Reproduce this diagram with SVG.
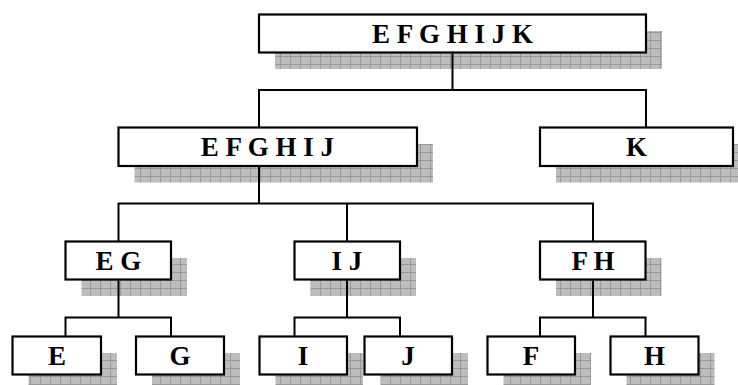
<svg xmlns="http://www.w3.org/2000/svg" width="738" height="385" viewBox="0 0 738 385">
  <defs>
    <!-- hatched grey drop-shadow fill: fine dither with a grid on top -->
    <pattern id="hatch" patternUnits="userSpaceOnUse" x="0" y="0" width="10" height="8">
      <rect width="10" height="8" fill="#c6c6c6"/>
      <path d="M0,0h1v1h-1zM2,0h1v1h-1zM4,0h1v1h-1zM6,0h1v1h-1zM8,0h1v1h-1zM1,1h1v1h-1zM3,1h1v1h-1zM5,1h1v1h-1zM7,1h1v1h-1zM9,1h1v1h-1zM0,2h1v1h-1zM2,2h1v1h-1zM4,2h1v1h-1zM6,2h1v1h-1zM8,2h1v1h-1zM1,3h1v1h-1zM3,3h1v1h-1zM5,3h1v1h-1zM7,3h1v1h-1zM9,3h1v1h-1zM0,4h1v1h-1zM2,4h1v1h-1zM4,4h1v1h-1zM6,4h1v1h-1zM8,4h1v1h-1zM1,5h1v1h-1zM3,5h1v1h-1zM5,5h1v1h-1zM7,5h1v1h-1zM9,5h1v1h-1zM0,6h1v1h-1zM2,6h1v1h-1zM4,6h1v1h-1zM6,6h1v1h-1zM8,6h1v1h-1zM1,7h1v1h-1zM3,7h1v1h-1zM5,7h1v1h-1zM7,7h1v1h-1zM9,7h1v1h-1z" fill="#b4b4b4"/>
      <path d="M0.5,0V8M0,0.5H10" stroke="#999999" stroke-width="1" fill="none"/>
    </pattern>
  </defs>
  <style>
    .shadow { fill: url(#hatch); }
    .box { fill: #ffffff; stroke: #000000; stroke-width: 2.2; }
    .label { font-family: "Liberation Serif", "Times New Roman", serif; font-weight: bold; font-size: 27px; fill: #000000; text-anchor: middle; }
    .link { fill: none; stroke: #000000; stroke-width: 2; }
  </style>

  <rect width="738" height="385" fill="#ffffff"/>

  <!-- level 1 -->
  <g id="node-EFGHIJK">
    <rect class="shadow" x="275" y="31" width="387" height="38"/>
    <rect class="box" x="259" y="14.5" width="387" height="38"/>
    <text class="label" x="452.5" y="42.5">E F G H I J K</text>
  </g>

  <!-- level 2 -->
  <g id="node-EFGHIJ">
    <rect class="shadow" x="134.5" y="144" width="298.5" height="38.5"/>
    <rect class="box" x="118.5" y="127.5" width="298.5" height="38.5"/>
    <text class="label" x="267.5" y="156">E F G H I J</text>
  </g>
  <g id="node-K">
    <rect class="shadow" x="556" y="144" width="193" height="38.5"/>
    <rect class="box" x="540" y="127.5" width="193" height="38.5"/>
    <text class="label" x="636.5" y="156">K</text>
  </g>

  <!-- level 3 -->
  <g id="node-EG">
    <rect class="shadow" x="81.5" y="258" width="105.5" height="38"/>
    <rect class="box" x="65.5" y="241.5" width="105.5" height="38"/>
    <text class="label" x="118.5" y="269.5">E G</text>
  </g>
  <g id="node-IJ">
    <rect class="shadow" x="310.5" y="258" width="105.5" height="38"/>
    <rect class="box" x="294.5" y="241.5" width="105.5" height="38"/>
    <text class="label" x="347" y="269.5">I J</text>
  </g>
  <g id="node-FH">
    <rect class="shadow" x="556" y="258" width="105.5" height="38"/>
    <rect class="box" x="540" y="241.5" width="105.5" height="38"/>
    <text class="label" x="593" y="269.5">F H</text>
  </g>

  <!-- level 4 -->
  <g id="node-E">
    <rect class="shadow" x="28.5" y="353" width="88.5" height="38"/>
    <rect class="box" x="12.5" y="336.5" width="88.5" height="38"/>
    <text class="label" x="57" y="364.5">E</text>
  </g>
  <g id="node-G">
    <rect class="shadow" x="152" y="353" width="88" height="38"/>
    <rect class="box" x="136" y="336.5" width="88" height="38"/>
    <text class="label" x="180" y="364.5">G</text>
  </g>
  <g id="node-I">
    <rect class="shadow" x="275.5" y="353" width="87.5" height="38"/>
    <rect class="box" x="259.5" y="336.5" width="87.5" height="38"/>
    <text class="label" x="303" y="364.5">I</text>
  </g>
  <g id="node-J">
    <rect class="shadow" x="380.5" y="353" width="87.5" height="38"/>
    <rect class="box" x="364.5" y="336.5" width="87.5" height="38"/>
    <text class="label" x="408" y="364.5">J</text>
  </g>
  <g id="node-F">
    <rect class="shadow" x="503.5" y="353" width="87.5" height="38"/>
    <rect class="box" x="487.5" y="336.5" width="87.5" height="38"/>
    <text class="label" x="531" y="364.5">F</text>
  </g>
  <g id="node-H">
    <rect class="shadow" x="626.5" y="353" width="88" height="38"/>
    <rect class="box" x="610.5" y="336.5" width="88" height="38"/>
    <text class="label" x="654.5" y="364.5">H</text>
  </g>

  <!-- connectors -->
  <g id="connectors">
    <path class="link" d="M452.5,53.5V90M259,127.5V90H646V127.5"/>
    <path class="link" d="M259,167V203.5M118.5,241.5V203.5H593V241.5M347,203.5V241.5"/>
    <path class="link" d="M118.5,280.5V317.5M65.5,336.5V317.5H171V336.5"/>
    <path class="link" d="M347,280.5V317.5M294.5,336.5V317.5H400V336.5"/>
    <path class="link" d="M593,280.5V317.5M540,336.5V317.5H645.5V336.5"/>
  </g>
</svg>
